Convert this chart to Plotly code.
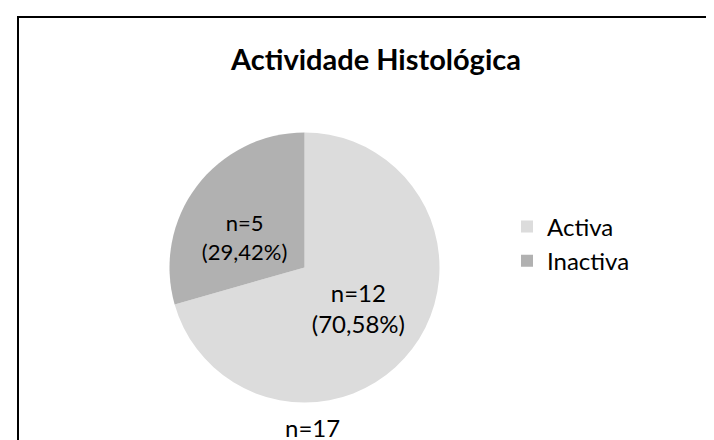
import plotly.graph_objects as go

categories = ["Activa", "Inactiva"]
counts = [12, 5]
pct_labels = ["70,58%", "29,42%"]
colors = ["#DCDCDC", "#B1B1B1"]
title_text = "Actividade Histológica"

W, H = 714, 440
cx, cy, r = 296.5, 259.5, 135

label_tpl = "n=%{value}<br>(%{customdata})"

fig = go.Figure(
    go.Pie(
        labels=categories,
        values=counts,
        customdata=pct_labels,
        texttemplate=[label_tpl, "&nbsp;<br>" + label_tpl],
        textposition="inside",
        insidetextorientation="horizontal",
        textfont=dict(family="Lato", size=24, color="black"),
        marker=dict(colors=colors, line=dict(width=0)),
        sort=False,
        direction="clockwise",
        rotation=0,
        hoverinfo="none",
        domain=dict(x=[(cx - r) / W, (cx + r) / W], y=[(H - cy - r) / H, (H - cy + r) / H]),
    )
)

fig.update_layout(
    width=W,
    height=H,
    margin=dict(l=0, r=0, t=0, b=0),
    paper_bgcolor="white",
    plot_bgcolor="white",
    font=dict(family="Lato", color="black"),
    showlegend=True,
    legend=dict(
        x=499 / W, y=1 - 236 / H, xanchor="left", yanchor="middle",
        font=dict(family="Lato", size=24, color="black"),
        bgcolor="rgba(0,0,0,0)",
    ),
    annotations=[
        dict(text="<b>" + title_text + "</b>", x=367.5 / W, y=1 - 50 / H, xref="paper", yref="paper",
             showarrow=False, xanchor="center", yanchor="middle",
             font=dict(family="Lato", size=29, color="black")),
        dict(text="n=" + str(sum(counts)), x=304 / W, y=4 / H, xref="paper", yref="paper",
             showarrow=False, xanchor="center", yanchor="bottom",
             font=dict(family="Lato", size=24, color="black")),
    ],
    shapes=[
        dict(type="rect", xref="paper", yref="paper", x0=10 / W, x1=712 / W, y0=-0.05, y1=1 - 9 / H,
             line=dict(color="black", width=2), fillcolor="rgba(0,0,0,0)"),
    ],
)

fig.write_html("out.html")
